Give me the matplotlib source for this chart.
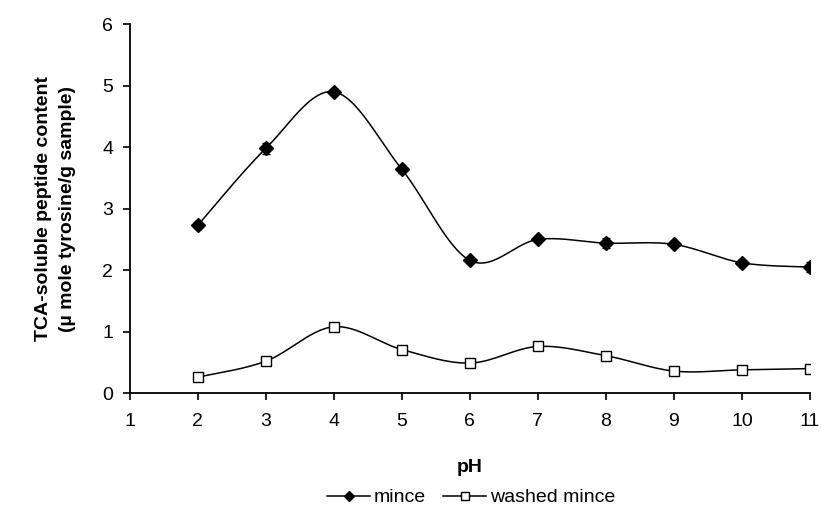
import numpy as np
import matplotlib
matplotlib.use("Agg")
import matplotlib.pyplot as plt

plt.rcParams['font.family'] = ['Liberation Sans', 'DejaVu Sans']

# Data
ph = [2, 3, 4, 5, 6, 7, 8, 9, 10, 11]
mince = [2.73, 3.98, 4.90, 3.64, 2.16, 2.50, 2.44, 2.42, 2.12, 2.05]
mince_err = [0.04, 0.09, 0.04, 0.06, 0.03, 0.03, 0.08, 0.04, 0.04, 0.08]
washed = [0.26, 0.52, 1.08, 0.71, 0.49, 0.76, 0.61, 0.36, 0.38, 0.40]
washed_err = [0.03, 0.03, 0.04, 0.04, 0.04, 0.04, 0.04, 0.04, 0.04, 0.04]


def smooth(x, y, n=30):
    # Excel-style smoothed line: cubic Bezier with Catmull-Rom control points
    x = np.asarray(x, float)
    y = np.asarray(y, float)
    px = np.concatenate(([x[0]], x, [x[-1]]))
    py = np.concatenate(([y[0]], y, [y[-1]]))
    xs, ys = [], []
    t = np.linspace(0, 1, n)
    for i in range(1, len(px) - 2):
        p0 = np.array([px[i], py[i]])
        p3 = np.array([px[i + 1], py[i + 1]])
        c1 = p0 + (np.array([px[i + 1], py[i + 1]]) - np.array([px[i - 1], py[i - 1]])) / 6
        c2 = p3 - (np.array([px[i + 2], py[i + 2]]) - np.array([px[i], py[i]])) / 6
        b = ((1 - t) ** 3)[:, None] * p0 + (3 * (1 - t) ** 2 * t)[:, None] * c1 \
            + (3 * (1 - t) * t ** 2)[:, None] * c2 + (t ** 3)[:, None] * p3
        xs.extend(b[:, 0])
        ys.extend(b[:, 1])
    return xs, ys


fig = plt.figure(figsize=(8.21, 5.14), dpi=100)
ax = fig.add_axes([0.158, 0.235, 0.8286, 0.718])

sx, sy = smooth(ph, mince)
ax.plot(sx, sy, color='black', lw=1.1)
ax.errorbar(ph, mince, yerr=mince_err, fmt='none', ecolor='black', elinewidth=1, capsize=3)
ax.plot(ph, mince, 'D', color='black', ms=7, ls='none')

sx, sy = smooth(ph, washed)
ax.plot(sx, sy, color='black', lw=1.1)
ax.errorbar(ph, washed, yerr=washed_err, fmt='none', ecolor='black', elinewidth=1, capsize=3)
ax.plot(ph, washed, 's', mfc='white', mec='black', ms=7.5, mew=1, ls='none')

# legend handles
ax.plot([], [], color='black', marker='D', ms=5.5, lw=1.1, label='mince')
ax.plot([], [], color='black', marker='s', mfc='white', ms=6, mew=1, lw=1.1, label='washed mince')

ax.set_xlim(1, 11)
ax.set_ylim(0, 6)
ax.set_xticks(range(1, 12))
ax.set_yticks(range(0, 7))
ax.tick_params(direction='out', length=5, width=1.2, labelsize=14, colors='black')
ax.tick_params(axis='x', pad=9)
ax.tick_params(axis='y', pad=7)
ax.spines['top'].set_visible(False)
ax.spines['right'].set_visible(False)
ax.spines['left'].set_linewidth(1.3)
ax.spines['bottom'].set_linewidth(1.3)

ax.set_xlabel('pH', fontsize=14, fontweight='bold', labelpad=21)
ax.set_ylabel('TCA-soluble peptide content\n(\u00b5 mole tyrosine/g sample)',
              fontsize=14, fontweight='bold', labelpad=19, linespacing=1.55)

handles, labels = ax.get_legend_handles_labels()
fig.legend(handles[-2:], labels[-2:], loc='center', bbox_to_anchor=(0.574, 0.032), ncol=2,
           frameon=False, fontsize=14, handlelength=2.2, handletextpad=0.2, columnspacing=0.9)

fig.savefig('out.png', dpi=100)
